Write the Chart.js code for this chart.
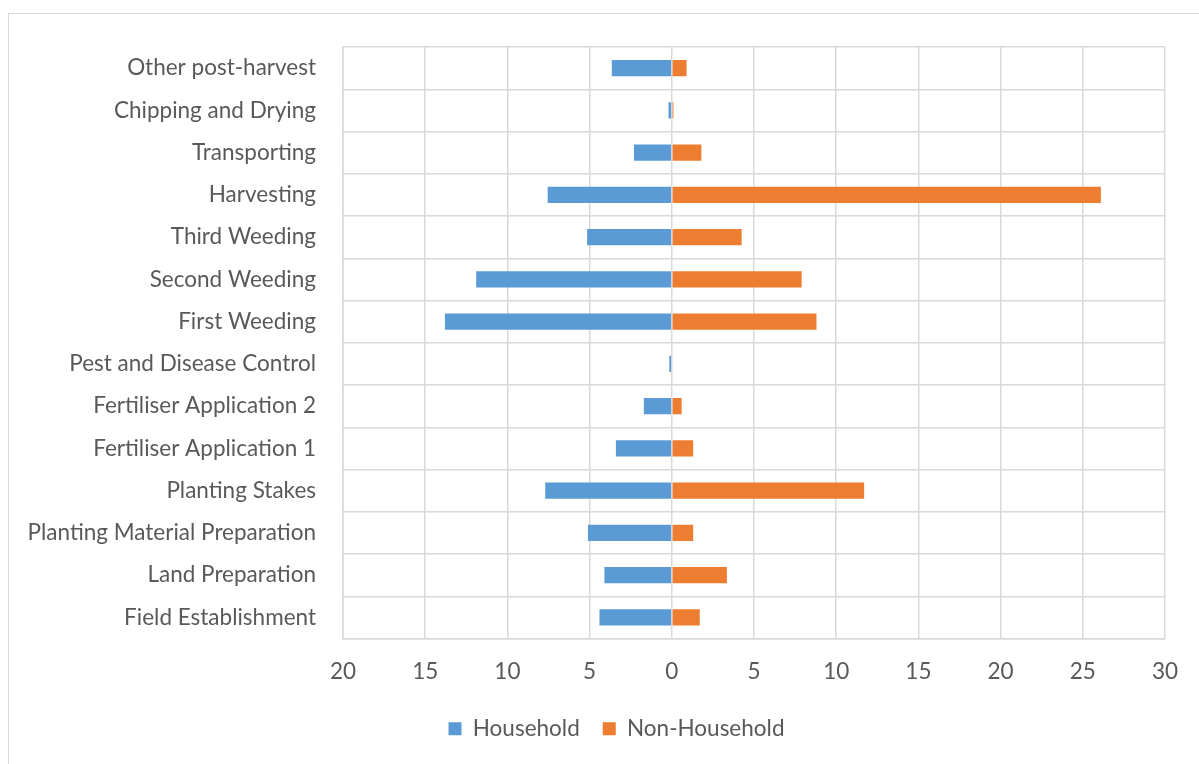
<!DOCTYPE html>
<html>
<head>
<meta charset="utf-8">
<script src="https://cdn.jsdelivr.net/npm/chart.js@4/dist/chart.umd.min.js"></script>
<style>
  html, body { margin: 0; padding: 0; background: #fff; }
  #wrap { position: absolute; left: 0; top: 0; width: 1199px; height: 764px; }
  #frame { position: absolute; left: 8px; top: 13px; width: 1200px; height: 800px; border: 1px solid #d9d9d9; box-sizing: border-box; }
  canvas { position: absolute; left: 0; top: 0; }
</style>
</head>
<body>
<div id="wrap">
  <div id="frame"></div>
  <canvas id="c" width="1199" height="764"></canvas>
</div>
<script>
const categories = [
  "Other post-harvest",
  "Chipping and Drying",
  "Transporting",
  "Harvesting",
  "Third Weeding",
  "Second Weeding",
  "First Weeding",
  "Pest and Disease Control",
  "Fertiliser Application 2",
  "Fertiliser Application 1",
  "Planting Stakes",
  "Planting Material Preparation",
  "Land Preparation",
  "Field Establishment"
];
const household = [3.65, 0.2, 2.3, 7.55, 5.15, 11.9, 13.8, 0.15, 1.7, 3.4, 7.7, 5.1, 4.1, 4.4];
const nonHousehold = [0.9, 0.1, 1.8, 26.1, 4.25, 7.9, 8.8, 0, 0.6, 1.3, 11.7, 1.3, 3.35, 1.7];
const xTicks = [-20, -15, -10, -5, 0, 5, 10, 15, 20, 25, 30];

const FONT = "Lato, 'Open Sans', sans-serif";
const FS = 22.5;
const GRID = "#d9d9d9";
const TXT = "#595959";

// shift the legend to where the reference places it
const legendShift = {
  id: 'legendShift',
  afterLayout(chart) {
    const lg = chart.legend;
    if (!lg) return;
    const dx = 23, dy = -11;
    lg.left += dx; lg.right += dx;
    lg.top += dy; lg.bottom += dy;
    lg.options.labels.padding = 23;
  }
};

new Chart(document.getElementById('c'), {
  type: 'bar',
  data: {
    labels: categories,
    datasets: [
      { label: 'Household', data: household.map(v => -v), backgroundColor: '#5B9BD5',
        categoryPercentage: 1, barPercentage: 0.39 },
      { label: 'Non-Household', data: nonHousehold, backgroundColor: '#ED7D31',
        categoryPercentage: 1, barPercentage: 0.39 }
    ]
  },
  plugins: [legendShift],
  options: {
    indexAxis: 'y',
    responsive: false,
    animation: false,
    devicePixelRatio: 1,
    layout: { padding: { left: 0, top: 47, right: 34, bottom: 14 } },
    plugins: {
      legend: {
        position: 'bottom',
        labels: {
          font: { family: FONT, size: FS },
          color: TXT,
          boxWidth: 13,
          boxHeight: 13,
          padding: 12
        }
      },
      tooltip: { enabled: false }
    },
    scales: {
      x: {
        stacked: true,
        min: -20, max: 30,
        afterBuildTicks: (ax) => { ax.ticks = xTicks.map(v => ({ value: v })); },
        afterFit: (ax) => { ax.height = 67; },
        ticks: {
          callback: (v) => String(Math.abs(v)),
          font: { family: FONT, size: FS },
          color: TXT,
          padding: 20,
          maxRotation: 0
        },
        grid: { color: GRID, lineWidth: 1.5, drawTicks: false },
        border: { color: GRID, width: 1.5 }
      },
      y: {
        stacked: true,
        afterFit: (ax) => { ax.width = 343; },
        ticks: {
          font: { family: FONT, size: FS },
          color: TXT,
          padding: 27,
          autoSkip: false
        },
        grid: { color: GRID, lineWidth: 1.5, drawTicks: false, offset: true },
        border: { color: GRID, width: 1.5 }
      }
    }
  }
});
</script>
</body>
</html>
